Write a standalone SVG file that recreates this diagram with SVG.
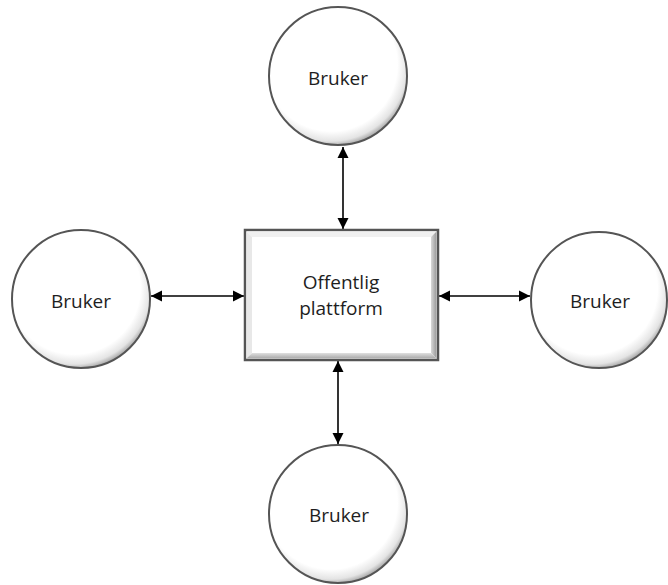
<svg xmlns="http://www.w3.org/2000/svg" width="668" height="585" viewBox="0 0 668 585">
<style>
.lbl{font-family:"Open Sans","Liberation Sans",sans-serif;font-size:19px;fill:#1e1e1e;text-anchor:middle}
.circ{fill:url(#cg);stroke:#555;stroke-width:2}
.conn{stroke:#000;stroke-width:1.6;fill:none;marker-start:url(#ah);marker-end:url(#ah)}
</style>
<defs>
<radialGradient id="cg" cx="0.45" cy="0.42" r="0.6">
<stop offset="0" stop-color="#fff"/>
<stop offset="0.8" stop-color="#fff"/>
<stop offset="0.92" stop-color="#e4e4e4"/>
<stop offset="1" stop-color="#999"/>
</radialGradient>
<linearGradient id="bvr" x1="0" y1="0" x2="1" y2="0">
<stop offset="0" stop-color="#d8d8d8"/>
<stop offset="1" stop-color="#9a9a9a"/>
</linearGradient>
<linearGradient id="bvb" x1="0" y1="0" x2="0" y2="1">
<stop offset="0" stop-color="#e0e0e0"/>
<stop offset="1" stop-color="#a8a8a8"/>
</linearGradient>
<marker id="ah" viewBox="0 0 10 10" refX="10" refY="5" markerWidth="7" markerHeight="7" markerUnits="strokeWidth" orient="auto-start-reverse">
<path d="M0,0 L10,5 L0,10 z" fill="#000"/>
</marker>
</defs>
<g id="connectors">
<line class="conn" x1="343" y1="147" x2="343" y2="229"/>
<line class="conn" x1="338" y1="361" x2="338" y2="444"/>
<line class="conn" x1="151" y1="296" x2="244" y2="296"/>
<line class="conn" x1="439" y1="296" x2="530" y2="296"/>
</g>
<g id="platform">
<rect x="245" y="230" width="193" height="130" fill="#fff" stroke="#555" stroke-width="2.5"/>
<polygon points="246.5,231.5 436.5,231.5 431,237 252,237" fill="#f0f0f0"/>
<polygon points="246.5,231.5 252,237 252,353 246.5,358.5" fill="#e8e8e8"/>
<polygon points="436.5,231.5 436.5,358.5 431,353 431,237" fill="url(#bvr)"/>
<polygon points="246.5,358.5 436.5,358.5 431,353 252,353" fill="url(#bvb)"/>
<text class="lbl" x="341" y="289">Offentlig</text>
<text class="lbl" x="341" y="315">plattform</text>
</g>
<g id="user-top">
<circle class="circ" cx="338" cy="76" r="69"/>
<text class="lbl" x="338" y="85">Bruker</text>
</g>
<g id="user-left">
<circle class="circ" cx="81" cy="299" r="69"/>
<text class="lbl" x="81" y="308">Bruker</text>
</g>
<g id="user-right">
<circle class="circ" cx="599" cy="300" r="68"/>
<text class="lbl" x="600" y="308">Bruker</text>
</g>
<g id="user-bottom">
<circle class="circ" cx="338" cy="514" r="69"/>
<text class="lbl" x="339" y="522">Bruker</text>
</g>
</svg>
